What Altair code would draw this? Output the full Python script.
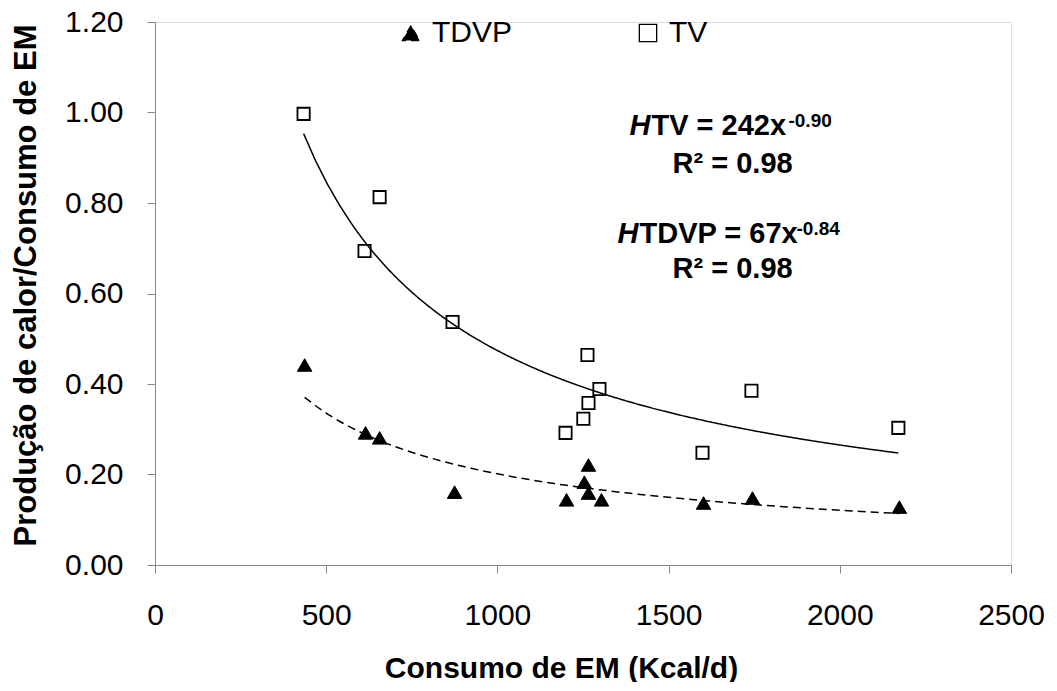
import altair as alt
import pandas as pd

# ---- data ----
series = ["TDVP", "TV"]
tdvp_x = [437, 615, 656, 875, 1266, 1254, 1266, 1202, 1304, 1602, 1745, 2174]
tdvp_y = [0.442, 0.292, 0.281, 0.161, 0.221, 0.183, 0.159, 0.144, 0.144, 0.137, 0.148, 0.128]
tv_x = [434, 656, 612, 869, 1263, 1298, 1266, 1251, 1199, 1599, 1742, 2171]
tv_y = [0.997, 0.813, 0.694, 0.537, 0.464, 0.389, 0.358, 0.323, 0.292, 0.248, 0.385, 0.303]

x_ticks = [0, 500, 1000, 1500, 2000, 2500]
y_ticks = [0.0, 0.2, 0.4, 0.6, 0.8, 1.0, 1.2]

x_title = "Consumo de EM (Kcal/d)"
y_title = "Produção de calor/Consumo de EM"

eq_h = ["H", "H"]
eq_main = ["TV = 242x", "TDVP = 67x"]
eq_sup = ["-0.90", "-0.84"]
eq_x = [1450, 1415]
eq_y = [0.950, 0.712]
r2_text = ["R² = 0.98", "R² = 0.98"]
r2_x = [1687, 1687]
r2_y = [0.866, 0.634]

FONT = "Liberation Sans"

df = pd.DataFrame({
    "x": tdvp_x + tv_x,
    "y": tdvp_y + tv_y,
    "series": ["TDVP"] * len(tdvp_x) + ["TV"] * len(tv_x),
})

xs = alt.Scale(domain=[0, 2500], nice=False)
ys = alt.Scale(domain=[0, 1.2], nice=False)

x_axis = alt.Axis(values=x_ticks, format="d", grid=False, labelFlush=False,
                  labelFontSize=30, labelPadding=27, tickSize=8,
                  title=x_title, titleFontSize=30, titleFontWeight="bold",
                  titleX=406, titleY=112, titleBaseline="alphabetic")
y_axis = alt.Axis(values=y_ticks, format=".2f", grid=False, labelFlush=False,
                  labelFontSize=30, labelPadding=24, tickSize=8,
                  title=y_title, titleFontSize=31, titleFontWeight="bold",
                  titleAngle=270, titleX=-120, titleY=263,
                  titleBaseline="alphabetic", titleAlign="center")

legend = alt.Legend(title=None, orient="none", direction="horizontal",
                    legendX=241, legendY=-4, padding=0,
                    labelFontSize=30, labelFont=FONT, labelColor="black",
                    symbolSize=300, symbolStrokeColor="black",
                    symbolStrokeWidth=1.3, labelOffset=6, columnPadding=120)

shape_enc = alt.Shape("series:N", scale=alt.Scale(domain=series, range=["triangle-up", "square"]), legend=legend)
fill_enc = alt.Fill("series:N", scale=alt.Scale(domain=series, range=["black", "white"]), legend=legend)
stroke_enc = alt.Stroke("series:N", scale=alt.Scale(domain=series, range=["black", "black"]), legend=legend)

base = alt.Chart(df)

tri = base.transform_filter(alt.datum.series == "TDVP").mark_point(
    filled=True, strokeWidth=1, opacity=1, size=210
).encode(x=alt.X("x:Q", scale=xs, axis=x_axis),
         y=alt.Y("y:Q", scale=ys, axis=y_axis),
         shape=shape_enc, fill=fill_enc, stroke=stroke_enc)

sq = base.transform_filter(alt.datum.series == "TV").mark_point(
    filled=True, strokeWidth=1.8, opacity=1, size=150
).encode(x=alt.X("x:Q", scale=xs), y=alt.Y("y:Q", scale=ys),
         shape=shape_enc, fill=fill_enc, stroke=stroke_enc)

trend = base.transform_regression("x", "y", method="pow", groupby=["series"]).mark_line(
    color="black", strokeWidth=1.5
).encode(
    x=alt.X("x:Q", scale=xs), y=alt.Y("y:Q", scale=ys),
    strokeDash=alt.StrokeDash("series:N", scale=alt.Scale(domain=series, range=[[8, 5], [1, 0]]), legend=None),
)

ann = pd.DataFrame({"x": eq_x, "y": eq_y, "h": eq_h, "main": eq_main, "sup": eq_sup})
r2 = pd.DataFrame({"x": r2_x, "y": r2_y, "t": r2_text})

txt = dict(font=FONT, fontWeight="bold", color="black", baseline="alphabetic")
h_layer = alt.Chart(ann).mark_text(align="right", fontSize=29, fontStyle="italic", dx=-1, **txt).encode(
    x=alt.X("x:Q", scale=xs), y=alt.Y("y:Q", scale=ys), text="h:N")
main_layer = alt.Chart(ann).mark_text(align="left", fontSize=29, **txt).encode(
    x=alt.X("x:Q", scale=xs), y=alt.Y("y:Q", scale=ys), text="main:N")
sup1 = alt.Chart(ann).transform_filter(alt.datum.sup == eq_sup[0]).mark_text(
    align="left", fontSize=19, dx=137, dy=-8, **txt).encode(
    x=alt.X("x:Q", scale=xs), y=alt.Y("y:Q", scale=ys), text="sup:N")
sup2 = alt.Chart(ann).transform_filter(alt.datum.sup == eq_sup[1]).mark_text(
    align="left", fontSize=19, dx=157, dy=-8, **txt).encode(
    x=alt.X("x:Q", scale=xs), y=alt.Y("y:Q", scale=ys), text="sup:N")
r2_layer = alt.Chart(r2).mark_text(align="center", fontSize=29, **txt).encode(
    x=alt.X("x:Q", scale=xs), y=alt.Y("y:Q", scale=ys), text="t:N")

chart = alt.layer(tri, sq, trend, h_layer, main_layer, sup1, sup2, r2_layer).properties(
    width=856, height=543,
    padding={"left": 147, "top": 14, "right": 36, "bottom": 117},
    autosize=alt.AutoSizeParams(type="none"),
).configure_view(stroke=None).configure_axis(
    labelFont=FONT, titleFont=FONT, labelColor="black", titleColor="black",
    domainColor="black", tickColor="black", domainWidth=1.5, tickWidth=1.5,
).configure(background="white")

chart.save("out.html", embed_options={"renderer": "svg", "actions": False})
